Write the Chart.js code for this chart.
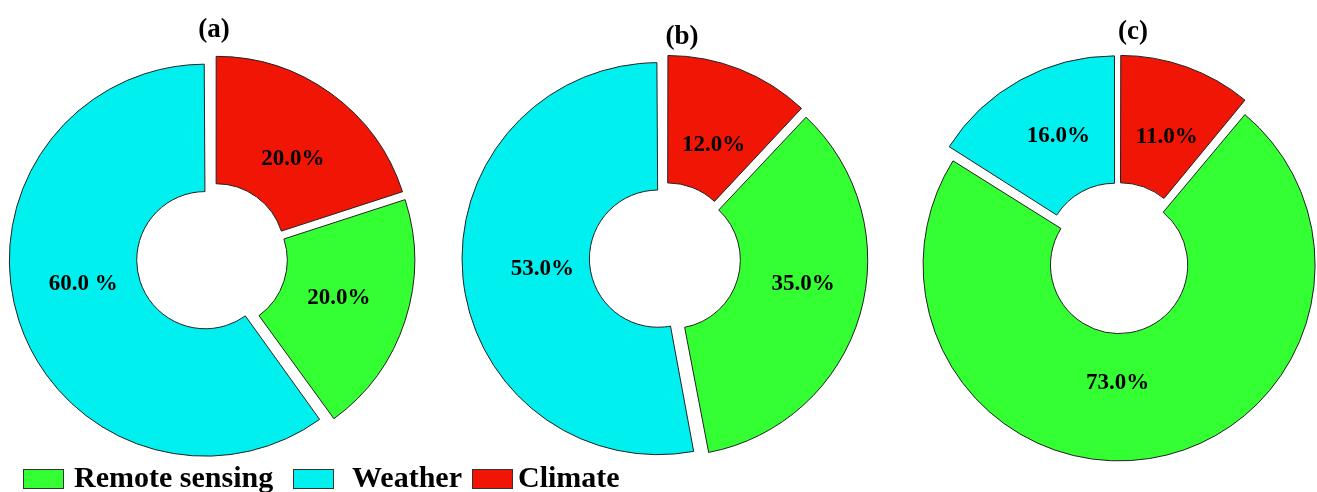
<!DOCTYPE html>
<html>
<head>
<meta charset="utf-8">
<script src="https://cdn.jsdelivr.net/npm/chart.js@4.4.1/dist/chart.umd.min.js"></script>
<style>
  body { margin: 0; background: #fff; }
  #wrap { position: relative; width: 1317px; height: 492px; overflow: hidden;
          font-family: "Liberation Serif", "Times New Roman", serif; font-weight: bold; color: #000; }
  canvas { position: absolute; top: 28px; }
  .title { position: absolute; font-size: 27px; line-height: 1; transform: translateX(-50%); }
  .box { position: absolute; top: 469px; width: 41px; height: 20px; border: 1px solid #333; box-sizing: border-box; }
  .lbl { position: absolute; top: 462px; font-size: 30px; line-height: 1; white-space: nowrap; }
</style>
</head>
<body>
<div id="wrap">
  <canvas id="chartA" width="424" height="460" style="left:0px"></canvas>
  <canvas id="chartB" width="430" height="460" style="left:450px"></canvas>
  <canvas id="chartC" width="398" height="460" style="left:919px"></canvas>
  <div class="title" style="left:214px; top:15px">(a)</div>
  <div class="title" style="left:682px; top:22px">(b)</div>
  <div class="title" style="left:1133px; top:17px">(c)</div>
  <div id="legend"></div>
</div>
<script>
// slices run clockwise from the top: Climate, Remote sensing, Weather
const categories = ['Climate', 'Remote sensing', 'Weather'];
const colors = ['#F01505', '#33FF33', '#00F0F0'];

const valuesA = [20, 20, 60];
const valuesB = [12, 35, 53];
const valuesC = [11, 73, 16];

const textA = ['20.0%', '20.0%', '60.0 %'];
const textB = ['12.0%', '35.0%', '53.0%'];
const textC = ['11.0%', '73.0%', '16.0%'];

// small hand nudges of the slice labels (px), as placed in the figure
const nudgeA = [[3, 8], [1, -1], [-3, -15]];
const nudgeB = [[0, 10], [11, -11], [9, -1]];
const nudgeC = [[4, 4], [-21, -6], [4, -6]];

// legend order in the figure
const legendOrder = [1, 2, 0];
const legendBoxX = [23, 293, 472];
const legendTextX = [74, 352, 518];

// Chart.js grows slices wider than 180deg by offset/4 when exploded; keep all radii equal
const arcDraw = Chart.ArcElement.prototype.draw;
Chart.ArcElement.prototype.draw = function (ctx) {
    const off = (this.options.offset || 0) / 4;
    const extra = off * (1 - Math.sin(Math.min(Math.PI, this.circumference || 0)));
    this.outerRadius -= extra;
    this.innerRadius -= extra;
    arcDraw.call(this, ctx);
    this.outerRadius += extra;
    this.innerRadius += extra;
};

function sliceLabels(texts, nudge) {
    return {
        id: 'sliceLabels',
        afterDatasetsDraw(chart) {
            const ctx = chart.ctx;
            const meta = chart.getDatasetMeta(0);
            ctx.save();
            ctx.font = 'bold 23px "Liberation Serif"';
            ctx.fillStyle = '#000';
            ctx.textAlign = 'center';
            ctx.textBaseline = 'middle';
            meta.data.forEach((arc, i) => {
                const mid = (arc.startAngle + arc.endAngle) / 2;
                const r = (arc.innerRadius + arc.outerRadius) / 2;
                ctx.fillText(texts[i],
                    arc.x + Math.cos(mid) * r + nudge[i][0],
                    arc.y + Math.sin(mid) * r + nudge[i][1]);
            });
            ctx.restore();
        }
    };
}

function makeDonut(id, values, texts, nudge) {
    const ctx = document.getElementById(id).getContext('2d');
    return new Chart(ctx, {
        type: 'doughnut',
        data: {
            labels: categories,
            datasets: [{
                data: values,
                backgroundColor: colors,
                borderColor: '#222',
                borderWidth: 1,
                offset: 28,
                hoverOffset: 0
            }]
        },
        options: {
            responsive: false,
            animation: false,
            events: [],
            radius: 196,
            cutout: '35%',
            layout: { padding: 0 },
            plugins: {
                legend: { display: false },
                tooltip: { enabled: false }
            }
        },
        plugins: [sliceLabels(texts, nudge)]
    });
}

const chartA = makeDonut('chartA', valuesA, textA, nudgeA);
const chartB = makeDonut('chartB', valuesB, textB, nudgeB);
const chartC = makeDonut('chartC', valuesC, textC, nudgeC);

// legend
const legend = document.getElementById('legend');
legendOrder.forEach((k, i) => {
    const box = document.createElement('div');
    box.className = 'box';
    box.style.left = legendBoxX[i] + 'px';
    box.style.background = colors[k];
    legend.appendChild(box);
    const lbl = document.createElement('div');
    lbl.className = 'lbl';
    lbl.style.left = legendTextX[i] + 'px';
    lbl.textContent = categories[k];
    legend.appendChild(lbl);
});
</script>
</body>
</html>
